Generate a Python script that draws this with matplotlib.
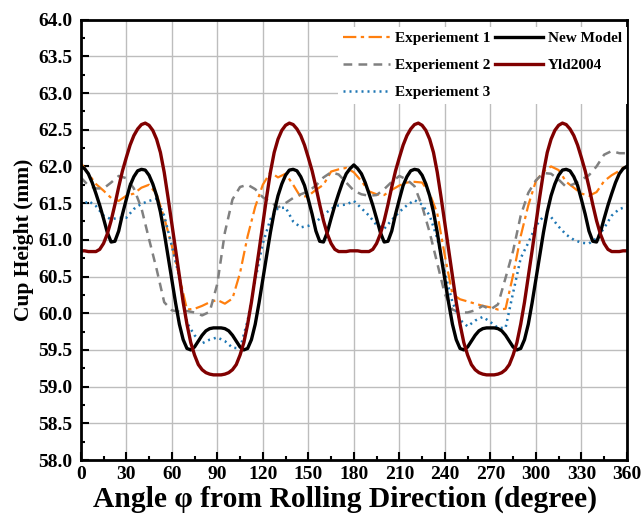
import numpy as np
import matplotlib
matplotlib.use("Agg")
import matplotlib.pyplot as plt
from matplotlib.ticker import MultipleLocator, FormatStrFormatter

# measured cups: angle from rolling direction, every 5 degrees
angle_exp = list(range(0, 365, 5))

exp1 = [62.05, 61.90, 61.76, 61.67, 61.57, 61.53, 61.60, 61.63, 61.71, 61.75,
        61.62, 61.30, 60.92, 60.50, 60.05, 60.06, 60.10, 60.15, 60.18, 60.13,
        60.20, 60.55, 61.05, 61.45, 61.75, 61.92, 61.85, 61.90, 61.75, 61.58,
        61.60, 61.68, 61.75, 61.93, 61.96, 61.98, 61.92, 61.80, 61.66, 61.62,
        61.61, 61.68, 61.74, 61.78, 61.79, 61.78, 61.63, 61.36, 60.78, 60.26,
        60.19, 60.16, 60.13, 60.10, 60.08, 60.05, 60.06, 60.52, 61.05, 61.47,
        61.80, 61.93, 62.00, 61.95, 61.79, 61.71, 61.63, 61.60, 61.65, 61.80,
        61.88, 61.94, 62.02]

exp2 = [61.85, 61.74, 61.70, 61.70, 61.78, 61.87, 61.84, 61.70, 61.43, 61.01,
        60.60, 60.15, 60.04, 60.02, 60.03, 60.01, 59.97, 60.02, 60.40, 61.10,
        61.55, 61.72, 61.75, 61.69, 61.58, 61.52, 61.44, 61.50, 61.57, 61.62,
        61.66, 61.74, 61.85, 61.92, 61.89, 61.78, 61.67, 61.62, 61.60, 61.61,
        61.69, 61.79, 61.87, 61.82, 61.73, 61.46, 61.10, 60.68, 60.26, 60.05,
        60.01, 60.01, 60.04, 60.10, 60.05, 60.12, 60.48, 60.85, 61.33, 61.64,
        61.81, 61.91, 61.90, 61.82, 61.72, 61.76, 61.82, 61.88, 62.00, 62.16,
        62.21, 62.18, 62.18]

exp3 = [61.45, 61.53, 61.46, 61.33, 61.28, 61.30, 61.30, 61.42, 61.49, 61.53,
        61.56, 61.33, 60.92, 60.49, 59.87, 59.70, 59.59, 59.64, 59.67, 59.62,
        59.53, 59.52, 59.90, 60.45, 60.95, 61.28, 61.43, 61.44, 61.25, 61.17,
        61.19, 61.24, 61.34, 61.42, 61.47, 61.48, 61.53, 61.43, 61.33, 61.20,
        61.15, 61.27, 61.38, 61.47, 61.54, 61.48, 61.33, 61.02, 60.55, 60.15,
        59.91, 59.82, 59.90, 59.95, 59.88, 59.80, 59.80, 60.28, 60.75, 60.96,
        61.19, 61.32, 61.31, 61.18, 61.07, 61.00, 60.96, 60.95, 61.02, 61.16,
        61.33, 61.42, 61.45]

# predictions: every 2.5 degrees
angle_model = [i * 2.5 for i in range(145)]

new_model = [62.00, 61.97, 61.90, 61.78, 61.63, 61.47, 61.29, 61.10, 60.97, 60.98,
             61.12, 61.35, 61.55, 61.74, 61.86, 61.94, 61.96, 61.95, 61.88, 61.76,
             61.60, 61.38, 61.10, 60.78, 60.46, 60.14, 59.85, 59.64, 59.52, 59.50,
             59.54, 59.62, 59.70, 59.76, 59.79, 59.80, 59.80,
             59.80, 59.79, 59.76, 59.70, 59.62, 59.54, 59.50, 59.52, 59.64, 59.85,
             60.14, 60.46, 60.78, 61.10, 61.38, 61.60, 61.76, 61.88, 61.95, 61.96,
             61.94, 61.86, 61.74, 61.55, 61.35, 61.12, 60.98, 60.97, 61.10, 61.29,
             61.47, 61.63, 61.78, 61.90, 61.97, 62.02,
             61.97, 61.90, 61.78, 61.63, 61.47, 61.29, 61.10, 60.97, 60.98, 61.12,
             61.35, 61.55, 61.74, 61.86, 61.94, 61.96, 61.95, 61.88, 61.76, 61.60,
             61.38, 61.10, 60.78, 60.46, 60.14, 59.85, 59.64, 59.52, 59.50, 59.54,
             59.62, 59.70, 59.76, 59.79, 59.80, 59.80,
             59.80, 59.79, 59.76, 59.70, 59.62, 59.54, 59.50, 59.52, 59.64, 59.85,
             60.14, 60.46, 60.78, 61.10, 61.38, 61.60, 61.76, 61.88, 61.95, 61.96,
             61.94, 61.86, 61.74, 61.55, 61.35, 61.12, 60.98, 60.97, 61.10, 61.29,
             61.47, 61.63, 61.78, 61.90, 61.97, 62.00]

yld2004 = [60.85, 60.85, 60.84, 60.84, 60.84, 60.87, 60.95, 61.08, 61.26, 61.48,
           61.72, 61.94, 62.12, 62.29, 62.42, 62.51, 62.57, 62.59, 62.56, 62.49,
           62.37, 62.19, 61.92, 61.58, 61.22, 60.85, 60.50, 60.15, 59.85, 59.60,
           59.43, 59.30, 59.23, 59.19, 59.17, 59.16, 59.16,
           59.16, 59.17, 59.19, 59.23, 59.30, 59.43, 59.60, 59.85, 60.15, 60.50,
           60.85, 61.22, 61.58, 61.92, 62.19, 62.37, 62.49, 62.56, 62.59, 62.57,
           62.51, 62.42, 62.29, 62.12, 61.94, 61.72, 61.48, 61.26, 61.08, 60.95,
           60.87, 60.84, 60.84, 60.84, 60.85, 60.85,
           60.85, 60.84, 60.84, 60.84, 60.87, 60.95, 61.08, 61.26, 61.48, 61.72,
           61.94, 62.12, 62.29, 62.42, 62.51, 62.57, 62.59, 62.56, 62.49, 62.37,
           62.19, 61.92, 61.58, 61.22, 60.85, 60.50, 60.15, 59.85, 59.60, 59.43,
           59.30, 59.23, 59.19, 59.17, 59.16, 59.16,
           59.16, 59.17, 59.19, 59.23, 59.30, 59.43, 59.60, 59.85, 60.15, 60.50,
           60.85, 61.22, 61.58, 61.92, 62.19, 62.37, 62.49, 62.56, 62.59, 62.57,
           62.51, 62.42, 62.29, 62.12, 61.94, 61.72, 61.48, 61.26, 61.08, 60.95,
           60.87, 60.84, 60.84, 60.84, 60.85, 60.85]

plt.rcParams["font.family"] = ["Liberation Serif", "DejaVu Serif"]
plt.rcParams["font.weight"] = "bold"

fig = plt.figure(figsize=(6.41, 5.16), dpi=100)
ax = fig.add_axes([0.126, 0.1085, 0.852, 0.8535])

ax.plot(angle_exp, exp1, color="#FF7F0E", lw=1.6, ls=(0, (6, 2, 1.5, 2)), label="Experiement 1")
ax.plot(angle_exp, exp2, color="#808080", lw=1.8, ls=(0, (3.5, 2.5)), label="Experiement 2")
ax.plot(angle_exp, exp3, color="#1F77B4", lw=1.8, ls=(0, (0.8, 1.6)), label="Experiement 3")
ax.plot(angle_model, new_model, color="black", lw=2.4, label="New Model")
ax.plot(angle_model, yld2004, color="#800000", lw=2.4, label="Yld2004")

ax.set_xlim(0, 360)
ax.set_ylim(58.0, 64.0)
ax.xaxis.set_major_locator(MultipleLocator(30))
ax.xaxis.set_minor_locator(MultipleLocator(15))
ax.yaxis.set_major_locator(MultipleLocator(0.5))
ax.yaxis.set_minor_locator(MultipleLocator(0.25))
ax.yaxis.set_major_formatter(FormatStrFormatter("%.1f"))

ax.tick_params(which="both", direction="in", width=1.5, labelsize=14)
ax.tick_params(which="major", length=6)
ax.tick_params(which="minor", length=3)
ax.tick_params(axis="y", pad=6)
ax.tick_params(axis="x", pad=4.5)
for lab in ax.get_xticklabels() + ax.get_yticklabels():
    lab.set_fontweight("bold")
for sp in ax.spines.values():
    sp.set_linewidth(2)

ax.grid(True, which="major", color="#BDBDBD", lw=1.0)
ax.set_axisbelow(True)

ax.set_xlabel("Angle \u03c6 from Rolling Direction (degree)", fontsize=21.3, fontweight="bold")
ax.set_ylabel("Cup Height (mm)", fontsize=15.5, fontweight="bold")
ax.xaxis.set_label_coords(0.484, -0.058)
ax.yaxis.set_label_coords(-0.085, 0.5)

leg = ax.legend(loc="upper right", bbox_to_anchor=(1.0, 0.984), ncol=2, fontsize=11,
                frameon=True, framealpha=1, edgecolor="none", fancybox=False,
                handlelength=3.1, handletextpad=0.35, columnspacing=0.3,
                labelspacing=0.88, borderaxespad=0.0, borderpad=0.3)
for t in leg.get_texts():
    t.set_fontweight("bold")

fig.savefig("out.png", dpi=100)
